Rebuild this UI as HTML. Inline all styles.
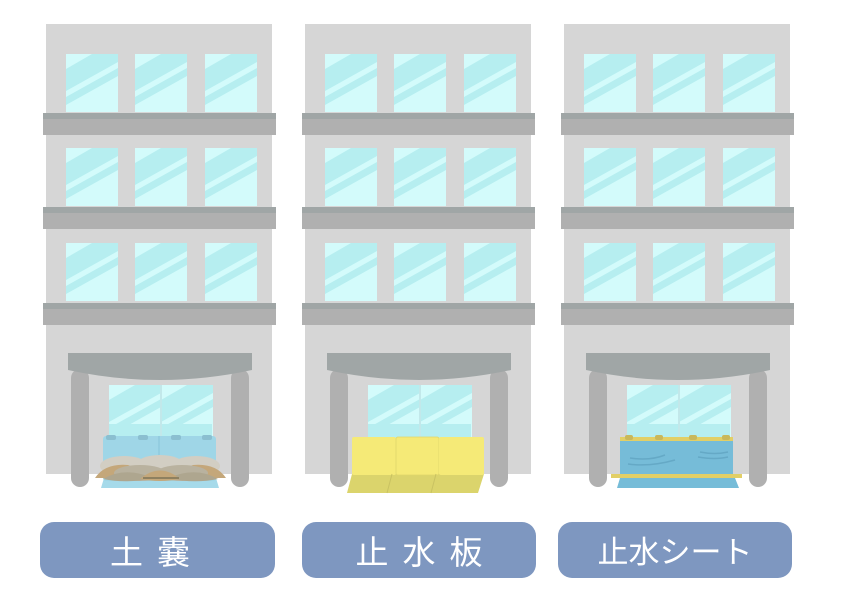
<!DOCTYPE html>
<html><head><meta charset="utf-8"><style>
html,body{margin:0;padding:0;background:#fff;width:842px;height:595px;overflow:hidden}
svg{display:block}
text{font-family:"Liberation Sans","Noto Sans CJK JP",sans-serif;fill:#fff}
</style></head><body>
<svg width="842" height="595" viewBox="0 0 842 595" xmlns="http://www.w3.org/2000/svg">
<defs>
<clipPath id="wc"><rect x="0" y="0" width="52" height="58"/></clipPath>
<g id="win">
  <g clip-path="url(#wc)">
  <rect x="0" y="0" width="52" height="58" fill="#d3fbfb"/>
  <polygon points="0,15 52,-15 52,8 0,37" fill="#b6eef0"/>
  <polygon points="0,43 52,14 52,22 0,51" fill="#b6eef0"/>
  </g>
</g>
<g id="row">
  <use href="#win" x="20" y="0"/>
  <use href="#win" x="89" y="0"/>
  <use href="#win" x="159" y="0"/>
</g>
<g id="bld">
  <rect x="0" y="0" width="226" height="450" fill="#d6d6d6"/>
  <use href="#row" y="30"/>
  <rect x="-3" y="89" width="233" height="22" fill="#b0b0b0"/>
  <rect x="-3" y="89" width="233" height="6" fill="#a0a6a6"/>
  <use href="#row" y="124"/>
  <rect x="-3" y="183" width="233" height="22" fill="#b0b0b0"/>
  <rect x="-3" y="183" width="233" height="6" fill="#a0a6a6"/>
  <use href="#row" y="219"/>
  <rect x="-3" y="279" width="233" height="22" fill="#b0b0b0"/>
  <rect x="-3" y="279" width="233" height="6" fill="#a0a6a6"/>
  <!-- door -->
  <use href="#win" x="63" y="361"/>
  <use href="#win" x="115" y="361"/>
  <rect x="63" y="400" width="103" height="50" fill="#b6eef0"/>
  <rect x="114" y="361" width="2" height="89" fill="#c2e8ea"/>
  <!-- pillars -->
  <rect x="25" y="345" width="18" height="118" rx="9" fill="#b0b0b0"/>
  <rect x="185" y="345" width="18" height="118" rx="9" fill="#b0b0b0"/>
  <!-- canopy -->
  <path d="M22,329 H206 V346 Q114,366 22,346 Z" fill="#a0a6a6"/>
</g>
</defs>

<use href="#bld" x="46" y="24"/>
<use href="#bld" x="305" y="24"/>
<use href="#bld" x="564" y="24"/>

<!-- sandbags -->
<polygon points="104,478 216,478 219,488 101,488" fill="#a6daea"/>
<rect x="103" y="436" width="113" height="45" fill="#9fd6e7" rx="3"/>
<rect x="158" y="436" width="2" height="42" fill="#93cde0"/>
<rect x="106" y="435" width="10" height="5" rx="2" fill="#8bbfd0"/>
<rect x="138" y="435" width="10" height="5" rx="2" fill="#8bbfd0"/>
<rect x="171" y="435" width="10" height="5" rx="2" fill="#8bbfd0"/>
<rect x="202" y="435" width="10" height="5" rx="2" fill="#8bbfd0"/>
<ellipse cx="124" cy="466" rx="24" ry="10" fill="#d2cec3"/>
<ellipse cx="160" cy="465" rx="24" ry="10" fill="#d2cec3"/>
<ellipse cx="196" cy="466" rx="24" ry="10" fill="#d2cec3"/>
<path d="M95,478 Q105,463 128,465 Q142,470 142,478 Z" fill="#c4a77a"/>
<path d="M226,478 Q216,463 193,465 Q179,470 179,478 Z" fill="#c4a77a"/>
<ellipse cx="140" cy="473" rx="26" ry="8" fill="#b9b29f"/>
<ellipse cx="182" cy="473" rx="26" ry="8" fill="#b9b29f"/>
<path d="M103,479 Q125,466 153,478 Q128,484 103,479 Z" fill="#aea68f"/>
<path d="M168,478 Q196,466 218,479 Q193,484 168,478 Z" fill="#aea68f"/>
<path d="M140,479 Q160,462 180,479 Q160,483 140,479 Z" fill="#c4a77a"/>
<rect x="143" y="477" width="36" height="2" fill="#8e8060"/>

<!-- boards -->
<polygon points="352,474 484,474 478,493 347,493" fill="#dbd46c"/>
<rect x="352" y="437" width="44" height="38" rx="2" fill="#f5ea77"/>
<rect x="396" y="437" width="43" height="38" rx="2" fill="#f5ea77" stroke="#e0d66a" stroke-width="0.8"/>
<rect x="439" y="437" width="45" height="38" rx="2" fill="#f5ea77"/>
<line x1="392" y1="474" x2="387" y2="493" stroke="#c9c262" stroke-width="1"/>
<line x1="436" y1="474" x2="431" y2="493" stroke="#c9c262" stroke-width="1"/>

<!-- sheet -->
<polygon points="620,478 735,478 739,488 617,488" fill="#76bcd8"/>
<rect x="620" y="438" width="113" height="40" fill="#76bcd8"/>
<rect x="620" y="437" width="113" height="4" fill="#e2cf66"/>
<rect x="625" y="435" width="8" height="5" rx="2" fill="#c9b85b"/>
<rect x="655" y="435" width="8" height="5" rx="2" fill="#c9b85b"/>
<rect x="689" y="435" width="8" height="5" rx="2" fill="#c9b85b"/>
<rect x="722" y="435" width="8" height="5" rx="2" fill="#c9b85b"/>
<path d="M630,458 Q650,461 665,455 M628,464 Q650,467 675,460 M700,452 Q715,455 728,452 M698,457 Q715,460 728,457" stroke="#65a9c6" stroke-width="1.5" fill="none"/>
<rect x="611" y="474" width="131" height="4" fill="#e2cf66"/>

<!-- labels -->
<rect x="40" y="522" width="235" height="56" rx="14" fill="#7e97c0"/>
<rect x="302" y="522" width="234" height="56" rx="14" fill="#7e97c0"/>
<rect x="558" y="522" width="234" height="56" rx="14" fill="#7e97c0"/>
<text x="157" y="564" font-size="33" text-anchor="middle" letter-spacing="14">土嚢</text>
<text x="426" y="564" font-size="33" text-anchor="middle" letter-spacing="14">止水板</text>
<text x="675" y="563" font-size="31" text-anchor="middle">止水シート</text>
</svg>
</body></html>
